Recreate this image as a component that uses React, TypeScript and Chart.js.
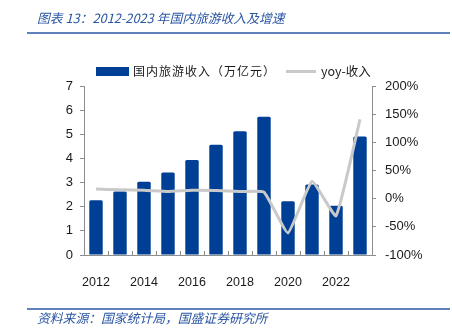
import React, { useEffect, useRef } from "react";
import { Chart, registerables } from "chart.js";

Chart.register(...registerables);

const categories = ["2012", "2013", "2014", "2015", "2016", "2017", "2018", "2019", "2020", "2021", "2022", "2023"];
const revenue = [2.27, 2.63, 3.03, 3.42, 3.94, 4.57, 5.13, 5.73, 2.23, 2.92, 2.04, 4.91];
const yoy = [17.0, 15.7, 15.0, 12.8, 15.0, 14.6, 12.6, 11.7, -60.8, 30.6, -30.3, 140.8];
const titleText = "图表 13：2012-2023 年国内旅游收入及增速";
const sourceText = "资料来源：国家统计局，国盛证券研究所";
const barLabel = "国内旅游收入（万亿元）";
const lineLabel = "yoy-收入";

const BLUE = "#003f96";
const GRAY = "#c9c9c9";
const HEAD = "#2a56a4";
const AXIS = "#8c8c8c";
const TXT = "#1a1a1a";
const CJK = "'Noto Sans CJK SC', sans-serif";
const NUM = "'Liberation Sans', Arial, sans-serif";

const decor = {
  id: "decor",
  afterDraw(chart: any) {
    const ctx = chart.ctx;
    const w = chart.width;
    ctx.save();
    // title
    ctx.fillStyle = HEAD;
    ctx.font = `italic 12.8px ${CJK}`;
    ctx.textBaseline = "middle";
    ctx.textAlign = "left";
    ctx.fillText(titleText, 37, 18);
    ctx.strokeStyle = HEAD;
    ctx.lineWidth = 1.5;
    ctx.beginPath();
    ctx.moveTo(27, 33);
    ctx.lineTo(w - 2, 33);
    ctx.stroke();
    // legend
    ctx.fillStyle = BLUE;
    ctx.fillRect(96, 67, 33, 9);
    ctx.fillStyle = TXT;
    ctx.font = `12px ${CJK}`;
    (ctx as any).letterSpacing = "1px";
    ctx.fillText(barLabel, 133, 71.5);
    (ctx as any).letterSpacing = "0px";
    ctx.strokeStyle = GRAY;
    ctx.lineWidth = 3;
    ctx.beginPath();
    ctx.moveTo(286, 71.5);
    ctx.lineTo(316, 71.5);
    ctx.stroke();
    ctx.fillStyle = TXT;
    ctx.font = `12.5px ${CJK}`;
    ctx.fillText(lineLabel, 321, 71.5);
    // footer
    ctx.strokeStyle = HEAD;
    ctx.lineWidth = 1.5;
    ctx.beginPath();
    ctx.moveTo(27, 309);
    ctx.lineTo(w - 2, 309);
    ctx.stroke();
    ctx.fillStyle = HEAD;
    ctx.font = `italic 12.8px ${CJK}`;
    ctx.fillText(sourceText, 37, 318.5);
    ctx.restore();
  },
  afterDatasetsDraw(chart: any) {
    const ctx = chart.ctx;
    const xs = chart.scales.x;
    const area = chart.chartArea;
    ctx.save();
    ctx.strokeStyle = AXIS;
    ctx.lineWidth = 1;
    const n = categories.length;
    const step = (xs.getPixelForValue(1) - xs.getPixelForValue(0));
    for (let i = 0; i <= n; i++) {
      const x = Math.round(xs.getPixelForValue(0) - step / 2 + i * step) + 0.5;
      ctx.beginPath();
      ctx.moveTo(x, area.bottom);
      ctx.lineTo(x, area.bottom - 4);
      ctx.stroke();
    }
    ctx.restore();
  },
};

export default function App() {
  const ref = useRef<HTMLCanvasElement | null>(null);
  useEffect(() => {
    document.body.style.margin = "0";
    const chart = new Chart(ref.current as HTMLCanvasElement, {
      type: "bar",
      data: {
        labels: categories,
        datasets: [
          {
            type: "line",
            label: lineLabel,
            data: yoy,
            yAxisID: "y1",
            borderColor: GRAY,
            borderWidth: 3,
            pointRadius: 0,
            tension: 0.12,
            order: 0,
          } as any,
          {
            type: "bar",
            label: barLabel,
            data: revenue,
            yAxisID: "y",
            backgroundColor: BLUE,
            barPercentage: 0.56,
            categoryPercentage: 1,
            borderRadius: 1.5,
            order: 1,
          },
        ],
      },
      options: {
        animation: false,
        responsive: false,
        layout: { padding: { top: 86, left: 0, right: 0, bottom: 0 } },
        plugins: { legend: { display: false }, tooltip: { enabled: false }, title: { display: false } },
        scales: {
          x: {
            offset: true,
            grid: { display: false },
            border: { display: true, color: AXIS, width: 1 },
            ticks: {
              autoSkip: false,
              maxRotation: 0,
              padding: 12,
              color: TXT,
              font: { family: NUM, size: 12.5 },
              callback: (_v: any, i: number) => (i % 2 === 0 ? categories[i] : ""),
            },
            afterFit: (s: any) => { s.height = 75; },
          },
          y: {
            position: "left",
            min: 0,
            max: 7,
            ticks: { stepSize: 1, padding: 7, color: TXT, font: { family: NUM, size: 13 } },
            grid: { drawOnChartArea: false, tickLength: 4, color: AXIS },
            border: { color: AXIS, width: 1 },
            afterFit: (s: any) => { s.width = 84; },
          },
          y1: {
            position: "right",
            min: -100,
            max: 200,
            ticks: {
              stepSize: 50,
              padding: 9,
              color: TXT,
              font: { family: NUM, size: 13 },
              callback: (v: any) => `${v}%`,
            },
            grid: { drawOnChartArea: false, tickLength: 4, color: AXIS },
            border: { color: AXIS, width: 1 },
            afterFit: (s: any) => { s.width = 80; },
          },
        },
      },
      plugins: [decor],
    });
    return () => chart.destroy();
  }, []);
  return (
    <div style={{ width: 452, height: 330, background: "#fff" }}>
      <canvas ref={ref} width={452} height={330} />
    </div>
  );
}
